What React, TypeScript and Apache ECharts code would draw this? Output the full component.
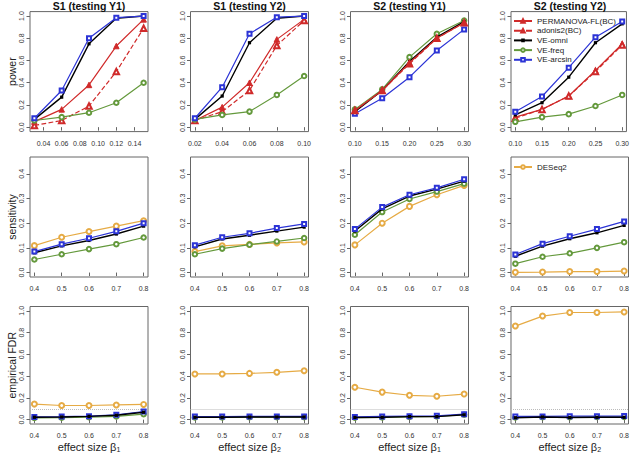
import React, { useEffect, useRef } from "react";
import * as echarts from "echarts";

// ---------- data ----------
const xS1Y1 = [0.03, 0.06, 0.09, 0.12, 0.15];
const xS1Y2 = [0.02, 0.04, 0.06, 0.08, 0.1];
const xS2 = [0.1, 0.15, 0.2, 0.25, 0.3];
const xBeta = [0.4, 0.5, 0.6, 0.7, 0.8];

const tickS1Y1 = [0.04, 0.06, 0.08, 0.1, 0.12, 0.14];
const tickS1Y2 = [0.02, 0.04, 0.06, 0.08, 0.1];
const tickS2 = [0.1, 0.15, 0.2, 0.25, 0.3];
const tickBeta = [0.4, 0.5, 0.6, 0.7, 0.8];
const tickPower = [0, 0.2, 0.4, 0.6, 0.8, 1.0];
const tickSens = [0, 0.1, 0.2, 0.3, 0.4];

const panelTitles = ["S1 (testing Y1)", "S1 (testing Y2)", "S2 (testing Y1)", "S2 (testing Y2)"];
const rowNames = ["power", "sensitivity", "empirical FDR"];
const xNames = ["effect size β{s|1}", "effect size β{s|2}", "effect size β{s|1}", "effect size β{s|2}"];
const fdrLevel = 0.1;

// power, S1 testing Y1
const pwS1Y1Perm = [0.05, 0.16, 0.38, 0.73, 0.97];
const pwS1Y1Adon = [0.015, 0.06, 0.19, 0.5, 0.89];
const pwS1Y1Omni = [0.07, 0.27, 0.75, 0.98, 1.0];
const pwS1Y1Freq = [0.06, 0.09, 0.13, 0.22, 0.4];
const pwS1Y1Arcs = [0.08, 0.33, 0.8, 0.985, 1.0];
// power, S1 testing Y2
const pwS1Y2Perm = [0.06, 0.18, 0.4, 0.79, 0.97];
const pwS1Y2Adon = [0.06, 0.14, 0.33, 0.735, 0.96];
const pwS1Y2Omni = [0.07, 0.28, 0.76, 0.98, 1.0];
const pwS1Y2Freq = [0.07, 0.11, 0.14, 0.29, 0.46];
const pwS1Y2Arcs = [0.08, 0.36, 0.84, 0.99, 1.0];
// power, S2 testing Y1
const pwS2Y1Perm = [0.15, 0.33, 0.58, 0.8, 0.94];
const pwS2Y1Adon = [0.15, 0.33, 0.57, 0.8, 0.94];
const pwS2Y1Omni = [0.14, 0.33, 0.59, 0.81, 0.95];
const pwS2Y1Freq = [0.16, 0.34, 0.63, 0.84, 0.96];
const pwS2Y1Arcs = [0.12, 0.26, 0.45, 0.69, 0.88];
// power, S2 testing Y2
const pwS2Y2Perm = [0.09, 0.16, 0.28, 0.51, 0.75];
const pwS2Y2Adon = [0.08, 0.16, 0.28, 0.5, 0.74];
const pwS2Y2Omni = [0.11, 0.22, 0.45, 0.76, 0.93];
const pwS2Y2Freq = [0.048, 0.09, 0.117, 0.19, 0.29];
const pwS2Y2Arcs = [0.138, 0.276, 0.535, 0.81, 0.95];

// sensitivity
const seS1Y1Omni = [0.08, 0.108, 0.13, 0.156, 0.188];
const seS1Y1Freq = [0.053, 0.074, 0.095, 0.115, 0.142];
const seS1Y1Arcs = [0.085, 0.115, 0.139, 0.167, 0.2];
const seS1Y1Des = [0.109, 0.143, 0.166, 0.188, 0.21];
const seS1Y2Omni = [0.104, 0.136, 0.151, 0.168, 0.184];
const seS1Y2Freq = [0.074, 0.097, 0.113, 0.126, 0.14];
const seS1Y2Arcs = [0.111, 0.143, 0.159, 0.18, 0.197];
const seS1Y2Des = [0.085, 0.108, 0.114, 0.12, 0.124];
const seS2Y1Omni = [0.168, 0.258, 0.31, 0.338, 0.37];
const seS2Y1Freq = [0.153, 0.245, 0.298, 0.328, 0.36];
const seS2Y1Arcs = [0.176, 0.265, 0.315, 0.343, 0.378];
const seS2Y1Des = [0.112, 0.2, 0.268, 0.315, 0.353];
const seS2Y2Omni = [0.066, 0.107, 0.137, 0.161, 0.191];
const seS2Y2Freq = [0.036, 0.064, 0.078, 0.1, 0.123];
const seS2Y2Arcs = [0.073, 0.117, 0.147, 0.176, 0.207];
const seS2Y2Des = [0.001, 0.002, 0.004, 0.004, 0.006];

// empirical FDR
const fdS1Y1Omni = [0.022, 0.025, 0.03, 0.04, 0.068];
const fdS1Y1Freq = [0.015, 0.018, 0.022, 0.03, 0.05];
const fdS1Y1Arcs = [0.025, 0.028, 0.032, 0.045, 0.075];
const fdS1Y1Des = [0.143, 0.13, 0.13, 0.135, 0.14];
const fdS1Y2Omni = [0.022, 0.022, 0.024, 0.025, 0.025];
const fdS1Y2Freq = [0.02, 0.02, 0.022, 0.022, 0.023];
const fdS1Y2Arcs = [0.028, 0.028, 0.03, 0.03, 0.03];
const fdS1Y2Des = [0.42, 0.42, 0.425, 0.435, 0.45];
const fdS2Y1Omni = [0.02, 0.022, 0.028, 0.028, 0.045];
const fdS2Y1Freq = [0.018, 0.02, 0.025, 0.03, 0.045];
const fdS2Y1Arcs = [0.025, 0.03, 0.032, 0.035, 0.05];
const fdS2Y1Des = [0.298, 0.253, 0.224, 0.215, 0.235];
const fdS2Y2Omni = [0.018, 0.025, 0.02, 0.022, 0.022];
const fdS2Y2Freq = [0.02, 0.022, 0.022, 0.024, 0.024];
const fdS2Y2Arcs = [0.03, 0.03, 0.032, 0.032, 0.033];
const fdS2Y2Des = [0.86, 0.952, 0.985, 0.985, 0.99];

// ---------- styles ----------
const FONT = "'Liberation Sans', Arial, Helvetica, sans-serif";
const RED = "#d02a2a";
const BLUE = "#2c34d6";
const GREEN = "#64993c";
const ORANGE = "#e6ab45";
const BLACK = "#000000";

const methodStyle: Record<string, any> = {
  "PERMANOVA-FL(BC)": { color: RED, symbol: "triangle", size: 5.5, type: "solid", bw: 1 },
  "adonis2(BC)": { color: RED, symbol: "emptyTriangle", size: 5.5, type: "dashed", bw: 1.2 },
  "VE-omni": { color: BLACK, symbol: "rect", size: 3.2, type: "solid", bw: 0 },
  "VE-freq": { color: GREEN, symbol: "emptyCircle", size: 4.5, type: "solid", bw: 1.1 },
  "VE-arcsin": { color: BLUE, symbol: "emptyRect", size: 4, type: "solid", bw: 1.2 },
  DESeq2: { color: ORANGE, symbol: "emptyCircle", size: 5, type: "solid", bw: 1.1 },
};

const lefts = [30, 190.5, 350.5, 511];
const tops = [11.6, 157, 306.5];
const GW = 118;
const GH = 120;

function xRange(xs: number[]) {
  const lo = xs[0];
  const hi = xs[xs.length - 1];
  const pad = (hi - lo) * 0.04;
  return [lo - pad, hi + pad];
}

export default function App() {
  const ref = useRef<HTMLDivElement>(null);
  useEffect(() => {
    const chart = echarts.init(ref.current!, null, { renderer: "svg" });

    const panels: { row: number; col: number; xs: number[]; ticks: number[]; lines: [string, number[]][] }[] = [
      { row: 0, col: 0, xs: xS1Y1, ticks: tickS1Y1, lines: [["PERMANOVA-FL(BC)", pwS1Y1Perm], ["adonis2(BC)", pwS1Y1Adon], ["VE-omni", pwS1Y1Omni], ["VE-freq", pwS1Y1Freq], ["VE-arcsin", pwS1Y1Arcs]] },
      { row: 0, col: 1, xs: xS1Y2, ticks: tickS1Y2, lines: [["PERMANOVA-FL(BC)", pwS1Y2Perm], ["adonis2(BC)", pwS1Y2Adon], ["VE-omni", pwS1Y2Omni], ["VE-freq", pwS1Y2Freq], ["VE-arcsin", pwS1Y2Arcs]] },
      { row: 0, col: 2, xs: xS2, ticks: tickS2, lines: [["VE-arcsin", pwS2Y1Arcs], ["VE-freq", pwS2Y1Freq], ["VE-omni", pwS2Y1Omni], ["adonis2(BC)", pwS2Y1Adon], ["PERMANOVA-FL(BC)", pwS2Y1Perm]] },
      { row: 0, col: 3, xs: xS2, ticks: tickS2, lines: [["PERMANOVA-FL(BC)", pwS2Y2Perm], ["adonis2(BC)", pwS2Y2Adon], ["VE-omni", pwS2Y2Omni], ["VE-freq", pwS2Y2Freq], ["VE-arcsin", pwS2Y2Arcs]] },
      { row: 1, col: 0, xs: xBeta, ticks: tickBeta, lines: [["DESeq2", seS1Y1Des], ["VE-freq", seS1Y1Freq], ["VE-omni", seS1Y1Omni], ["VE-arcsin", seS1Y1Arcs]] },
      { row: 1, col: 1, xs: xBeta, ticks: tickBeta, lines: [["DESeq2", seS1Y2Des], ["VE-freq", seS1Y2Freq], ["VE-omni", seS1Y2Omni], ["VE-arcsin", seS1Y2Arcs]] },
      { row: 1, col: 2, xs: xBeta, ticks: tickBeta, lines: [["DESeq2", seS2Y1Des], ["VE-freq", seS2Y1Freq], ["VE-omni", seS2Y1Omni], ["VE-arcsin", seS2Y1Arcs]] },
      { row: 1, col: 3, xs: xBeta, ticks: tickBeta, lines: [["DESeq2", seS2Y2Des], ["VE-freq", seS2Y2Freq], ["VE-omni", seS2Y2Omni], ["VE-arcsin", seS2Y2Arcs]] },
      { row: 2, col: 0, xs: xBeta, ticks: tickBeta, lines: [["DESeq2", fdS1Y1Des], ["VE-freq", fdS1Y1Freq], ["VE-arcsin", fdS1Y1Arcs], ["VE-omni", fdS1Y1Omni]] },
      { row: 2, col: 1, xs: xBeta, ticks: tickBeta, lines: [["DESeq2", fdS1Y2Des], ["VE-freq", fdS1Y2Freq], ["VE-arcsin", fdS1Y2Arcs], ["VE-omni", fdS1Y2Omni]] },
      { row: 2, col: 2, xs: xBeta, ticks: tickBeta, lines: [["DESeq2", fdS2Y1Des], ["VE-freq", fdS2Y1Freq], ["VE-arcsin", fdS2Y1Arcs], ["VE-omni", fdS2Y1Omni]] },
      { row: 2, col: 3, xs: xBeta, ticks: tickBeta, lines: [["DESeq2", fdS2Y2Des], ["VE-freq", fdS2Y2Freq], ["VE-arcsin", fdS2Y2Arcs], ["VE-omni", fdS2Y2Omni]] },
    ];

    const grid: any[] = [];
    const xAxis: any[] = [];
    const yAxis: any[] = [];
    const series: any[] = [];

    panels.forEach((p, gi) => {
      grid.push({
        left: lefts[p.col],
        top: tops[p.row],
        width: GW,
        height: GH,
        show: true,
        borderColor: "#666",
        borderWidth: 1,
        backgroundColor: "transparent",
      });
      const [xmin, xmax] = xRange(p.xs);
      const xDigits = p.row === 0 ? 2 : 1;
      xAxis.push({
        type: "value",
        gridIndex: gi,
        min: xmin,
        max: xmax,
        axisLine: { show: false },
        splitLine: { show: false },
        axisTick: { show: true, length: 3.5, customValues: p.ticks, lineStyle: { color: "#666" } },
        axisLabel: {
          customValues: p.ticks,
          formatter: (v: number) => v.toFixed(xDigits),
          fontSize: 7,
          color: "#333",
          fontFamily: FONT,
          margin: 8,
        },
        name: p.row === 2 ? xNames[p.col] : "",
        nameLocation: "middle",
        nameGap: 17,
        nameTextStyle: {
          fontSize: 11,
          color: "#222",
          fontFamily: FONT,
          rich: { s: { fontSize: 7, fontFamily: FONT, color: "#222", verticalAlign: "bottom", padding: [5, 0, 0, 0] } },
        },
      });
      const yTicks = p.row === 1 ? tickSens : tickPower;
      const yHi = p.row === 1 ? 0.45 : 1.0;
      yAxis.push({
        type: "value",
        gridIndex: gi,
        min: -0.04 * yHi,
        max: 1.04 * yHi,
        axisLine: { show: false },
        splitLine: { show: false },
        axisTick: { show: true, length: 3.5, customValues: yTicks, lineStyle: { color: "#666" } },
        axisLabel: {
          customValues: yTicks,
          formatter: (v: number) => v.toFixed(1),
          fontSize: 7,
          color: "#333",
          fontFamily: FONT,
          rotate: 90,
          margin: 5,
        },
        name: p.col === 0 ? rowNames[p.row] : "",
        nameLocation: "middle",
        nameGap: 12,
        nameRotate: 90,
        nameTextStyle: { fontSize: 10.5, color: "#222", fontFamily: FONT },
      });
      p.lines.forEach(([name, vals], li) => {
        const st = methodStyle[name];
        const s: any = {
          type: "line",
          name,
          xAxisIndex: gi,
          yAxisIndex: gi,
          data: p.xs.map((x, i) => [x, vals[i]]),
          symbol: st.symbol,
          symbolSize: st.size,
          showAllSymbol: true,
          color: st.color,
          itemStyle: { color: st.color, borderColor: st.color, borderWidth: st.bw },
          lineStyle: { color: st.color, width: name === "VE-omni" ? 1.4 : 1.2, type: st.type },
          z: 3 + li,
        };
        if (p.row === 2 && li === 0) {
          s.markLine = {
            silent: true,
            symbol: ["none", "none"],
            label: { show: false },
            lineStyle: { type: "dotted", color: "#bbb", width: 1 },
            data: [{ yAxis: fdrLevel }],
          };
        }
        series.push(s);
      });
    });

    const colCenters = lefts.map((l) => l + GW / 2);
    const legendText = { fontSize: 8, color: "#222", fontFamily: FONT, lineHeight: 8, padding: [0, 0, 0, 0] };

    chart.setOption({
      animation: false,
      backgroundColor: "#ffffff",
      textStyle: { fontFamily: FONT },
      title: panelTitles.map((t, i) => ({
        text: t,
        left: colCenters[i],
        top: 0,
        textAlign: "center",
        padding: 0,
        textStyle: { fontSize: 10.5, fontWeight: "bold", color: "#111", fontFamily: FONT, lineHeight: 11 },
      })),
      legend: [
        {
          data: ["PERMANOVA-FL(BC)", "adonis2(BC)", "VE-omni", "VE-freq", "VE-arcsin"],
          orient: "vertical",
          left: 513,
          top: 17,
          padding: 0,
          itemGap: 1.7,
          itemWidth: 18,
          itemHeight: 4.5,
          selectedMode: false,
          textStyle: legendText,
        },
        {
          data: ["DESeq2"],
          orient: "vertical",
          left: 513,
          top: 163,
          padding: 0,
          itemWidth: 18,
          itemHeight: 4.5,
          selectedMode: false,
          textStyle: legendText,
        },
      ],
      grid,
      xAxis,
      yAxis,
      series,
    });
    return () => chart.dispose();
  }, []);
  return <div ref={ref} style={{ position: "absolute", left: 0, top: 0, width: 632, height: 454 }} />;
}
